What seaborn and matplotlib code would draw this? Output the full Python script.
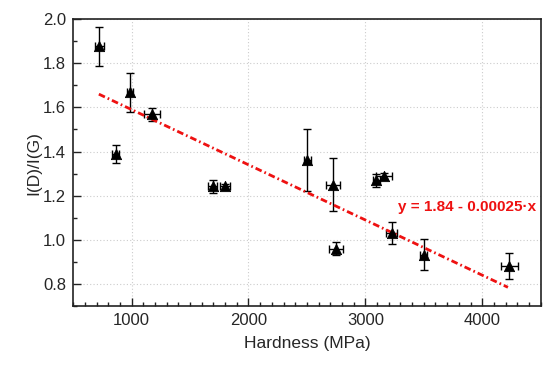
import numpy as np
import pandas as pd
import matplotlib
matplotlib.use("Agg")
import matplotlib.pyplot as plt
import seaborn as sns
from matplotlib.ticker import MultipleLocator

hardness = [723, 866, 986, 1174, 1693, 1802, 2502, 2721, 2753, 3095, 3158, 3224, 3498, 4232]
ratio = [1.876, 1.39, 1.668, 1.568, 1.242, 1.242, 1.363, 1.25, 0.96, 1.27, 1.29, 1.032, 0.932, 0.882]
ratio_err = [0.09, 0.04, 0.09, 0.03, 0.03, 0.01, 0.14, 0.12, 0.03, 0.03, 0.015, 0.05, 0.07, 0.06]
hardness_err = [40, 30, 28, 68, 40, 43, 30, 60, 60, 30, 70, 50, 30, 70]
fit_intercept = 1.84
fit_slope = -0.00025
fit_x = [720, 4220]
fit_label = "y = 1.84 - 0.00025·x"

sns.set_style("white")
plt.rcParams['font.family'] = ['Liberation Sans', 'DejaVu Sans']

df = pd.DataFrame({"Hardness": hardness, "Ratio": ratio})
fit_df = pd.DataFrame({"x": fit_x, "y": [fit_intercept + fit_slope * v for v in fit_x]})

fig, ax = plt.subplots(figsize=(5.5, 3.67), dpi=100)
fig.subplots_adjust(left=0.133, right=0.983, top=0.948, bottom=0.166)

ax.grid(True, which="major", color="#cccccc", linestyle=(0, (1, 2)), linewidth=0.8)
ax.set_axisbelow(True)

ax.errorbar(hardness, ratio, xerr=hardness_err, yerr=ratio_err, fmt="none",
            ecolor="black", elinewidth=1.0, capsize=3, capthick=1.0, zorder=2)
sns.lineplot(data=fit_df, x="x", y="y", ax=ax, color="#ee1111", linewidth=2.0,
             zorder=3)
ax.lines[-1].set_dashes([2.4, 1.1, 0.6, 1.1])
sns.scatterplot(data=df, x="Hardness", y="Ratio", ax=ax, marker="^", s=55,
                color="black", edgecolor="black", zorder=4)

ax.text(4465, 1.15, fit_label, color="#ee1111", fontsize=11, fontweight="bold",
        ha="right", va="center")

ax.set_xlim(500, 4500)
ax.set_ylim(0.7, 2.0)
ax.xaxis.set_major_locator(MultipleLocator(1000))
ax.xaxis.set_minor_locator(MultipleLocator(100))
ax.yaxis.set_major_locator(MultipleLocator(0.2))
ax.yaxis.set_minor_locator(MultipleLocator(0.1))
ax.yaxis.set_major_formatter(matplotlib.ticker.FormatStrFormatter("%.1f"))

ax.tick_params(axis="both", which="both", bottom=True, left=True, top=False, right=False)
ax.tick_params(axis="both", which="major", direction="in", length=6, width=1,
               labelsize=12, color="#222222", pad=5)
ax.tick_params(axis="both", which="minor", direction="in", length=3, width=1,
               color="#222222")
for s in ax.spines.values():
    s.set_color("#222222")
    s.set_linewidth(1.2)

ax.set_xlabel("Hardness (MPa)", fontsize=12.5, labelpad=6)
ax.set_ylabel("I(D)/I(G)", fontsize=12.5, labelpad=1)

fig.savefig("out.png", dpi=100)
